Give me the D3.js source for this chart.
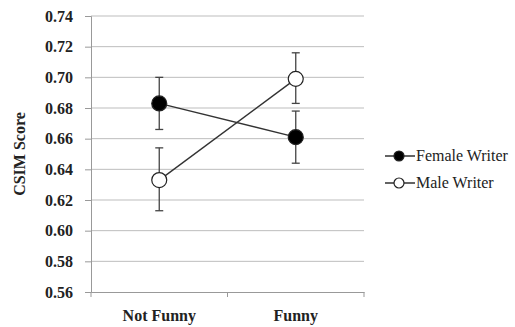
<!DOCTYPE html>
<html>
<head>
<meta charset="utf-8">
<script src="https://cdn.jsdelivr.net/npm/d3@7"></script>
<style>
  body { margin: 0; background: #fff; }
  svg text { font-family: "Liberation Serif", "Times New Roman", serif; fill: #222; }
</style>
</head>
<body>
<div id="chart"></div>
<script>
const categories = ['Not Funny', 'Funny'];
const seriesNames = ['Female Writer', 'Male Writer'];
const femaleMean = [0.683, 0.661];
const femaleLow = [0.666, 0.644];
const femaleHigh = [0.700, 0.678];
const maleMean = [0.633, 0.699];
const maleLow = [0.613, 0.683];
const maleHigh = [0.654, 0.716];
const yTicks = [0.56, 0.58, 0.60, 0.62, 0.64, 0.66, 0.68, 0.70, 0.72, 0.74];

window.onload = () => { drawChart(); }

function drawChart() {
    const width = 515, height = 327;
    const left = 91, right = 364, top = 16, bottom = 292;

    const svg = d3.select('#chart').append('svg')
        .attr('width', width)
        .attr('height', height);

    // scales
    const xScale = d3.scaleBand().domain(categories).range([left, right]);
    const yScale = d3.scaleLinear().domain([0.56, 0.74]).range([bottom, top]);

    // gridlines
    svg.append('g').selectAll('line')
        .data(yTicks.slice(1))
        .enter().append('line')
        .attr('x1', left).attr('x2', right)
        .attr('y1', d => yScale(d)).attr('y2', d => yScale(d))
        .attr('stroke', '#bdbdbd').attr('stroke-width', 1);

    // axes
    const yaxis = d3.axisLeft(yScale).tickValues(yTicks)
        .tickFormat(d3.format('.2f')).tickSize(6).tickPadding(12);
    const gy = svg.append('g')
        .attr('transform', 'translate(' + left + ',0)')
        .call(yaxis);
    gy.select('.domain').attr('stroke', '#999');
    gy.selectAll('.tick line').attr('stroke', '#999');
    gy.selectAll('text').attr('font-size', 16).attr('fill', '#222')
        .attr('font-family', '"Liberation Serif", serif').attr('font-weight', 'bold');

    const xaxis = d3.axisBottom(xScale).tickSize(0).tickPadding(18);
    const gx = svg.append('g')
        .attr('transform', 'translate(0,' + bottom + ')')
        .call(xaxis);
    gx.select('.domain').attr('stroke', '#999');
    gx.selectAll('text').attr('font-size', 16).attr('fill', '#222')
        .attr('font-family', '"Liberation Serif", serif').attr('font-weight', 'bold');

    // x tick marks at band edges
    const edges = [left, xScale('Funny'), right];
    svg.append('g').selectAll('line')
        .data(edges)
        .enter().append('line')
        .attr('x1', d => d).attr('x2', d => d)
        .attr('y1', bottom).attr('y2', bottom + 5)
        .attr('stroke', '#999');

    // y axis title
    svg.append('text')
        .attr('transform', 'translate(25,' + 154 + ') rotate(-90)')
        .attr('text-anchor', 'middle')
        .attr('font-size', 16)
        .attr('font-weight', 'bold')
        .text('CSIM Score');

    const cx = c => xScale(c) + xScale.bandwidth() / 2;

    const series = [
        { name: seriesNames[0], mean: femaleMean, low: femaleLow, high: femaleHigh, fill: '#000' },
        { name: seriesNames[1], mean: maleMean, low: maleLow, high: maleHigh, fill: '#fff' }
    ];

    // error bars
    series.forEach(s => {
        const g = svg.append('g');
        categories.forEach((c, i) => {
            g.append('line')
                .attr('x1', cx(c)).attr('x2', cx(c))
                .attr('y1', yScale(s.low[i])).attr('y2', yScale(s.high[i]))
                .attr('stroke', '#444').attr('stroke-width', 1.3);
            [s.low[i], s.high[i]].forEach(v => {
                g.append('line')
                    .attr('x1', cx(c) - 4).attr('x2', cx(c) + 4)
                    .attr('y1', yScale(v)).attr('y2', yScale(v))
                    .attr('stroke', '#444').attr('stroke-width', 1.3);
            });
        });
    });

    // lines
    series.forEach(s => {
        svg.append('path')
            .datum(categories.map((c, i) => ({ c: c, v: s.mean[i] })))
            .attr('fill', 'none')
            .attr('stroke', '#333')
            .attr('stroke-width', 1.4)
            .attr('d', d3.line().x(d => cx(d.c)).y(d => yScale(d.v)));
    });

    // markers
    series.forEach(s => {
        svg.append('g').selectAll('circle')
            .data(categories.map((c, i) => ({ c: c, v: s.mean[i] })))
            .enter().append('circle')
            .attr('cx', d => cx(d.c))
            .attr('cy', d => yScale(d.v))
            .attr('r', 7.5)
            .attr('fill', s.fill)
            .attr('stroke', '#222')
            .attr('stroke-width', 1.2);
    });

    // legend
    const legend = svg.append('g').attr('transform', 'translate(385,156)');
    series.forEach((s, i) => {
        const g = legend.append('g').attr('transform', 'translate(0,' + (i * 27) + ')');
        g.append('line').attr('x1', 0).attr('x2', 30).attr('y1', 0).attr('y2', 0)
            .attr('stroke', '#222').attr('stroke-width', 1.4);
        g.append('circle').attr('cx', 14).attr('cy', 0).attr('r', 5)
            .attr('fill', s.fill).attr('stroke', '#222').attr('stroke-width', 1.2);
        g.append('text').attr('x', 31).attr('y', 5)
            .attr('font-size', 16)
            .text(s.name);
    });
}
</script>
</body>
</html>
